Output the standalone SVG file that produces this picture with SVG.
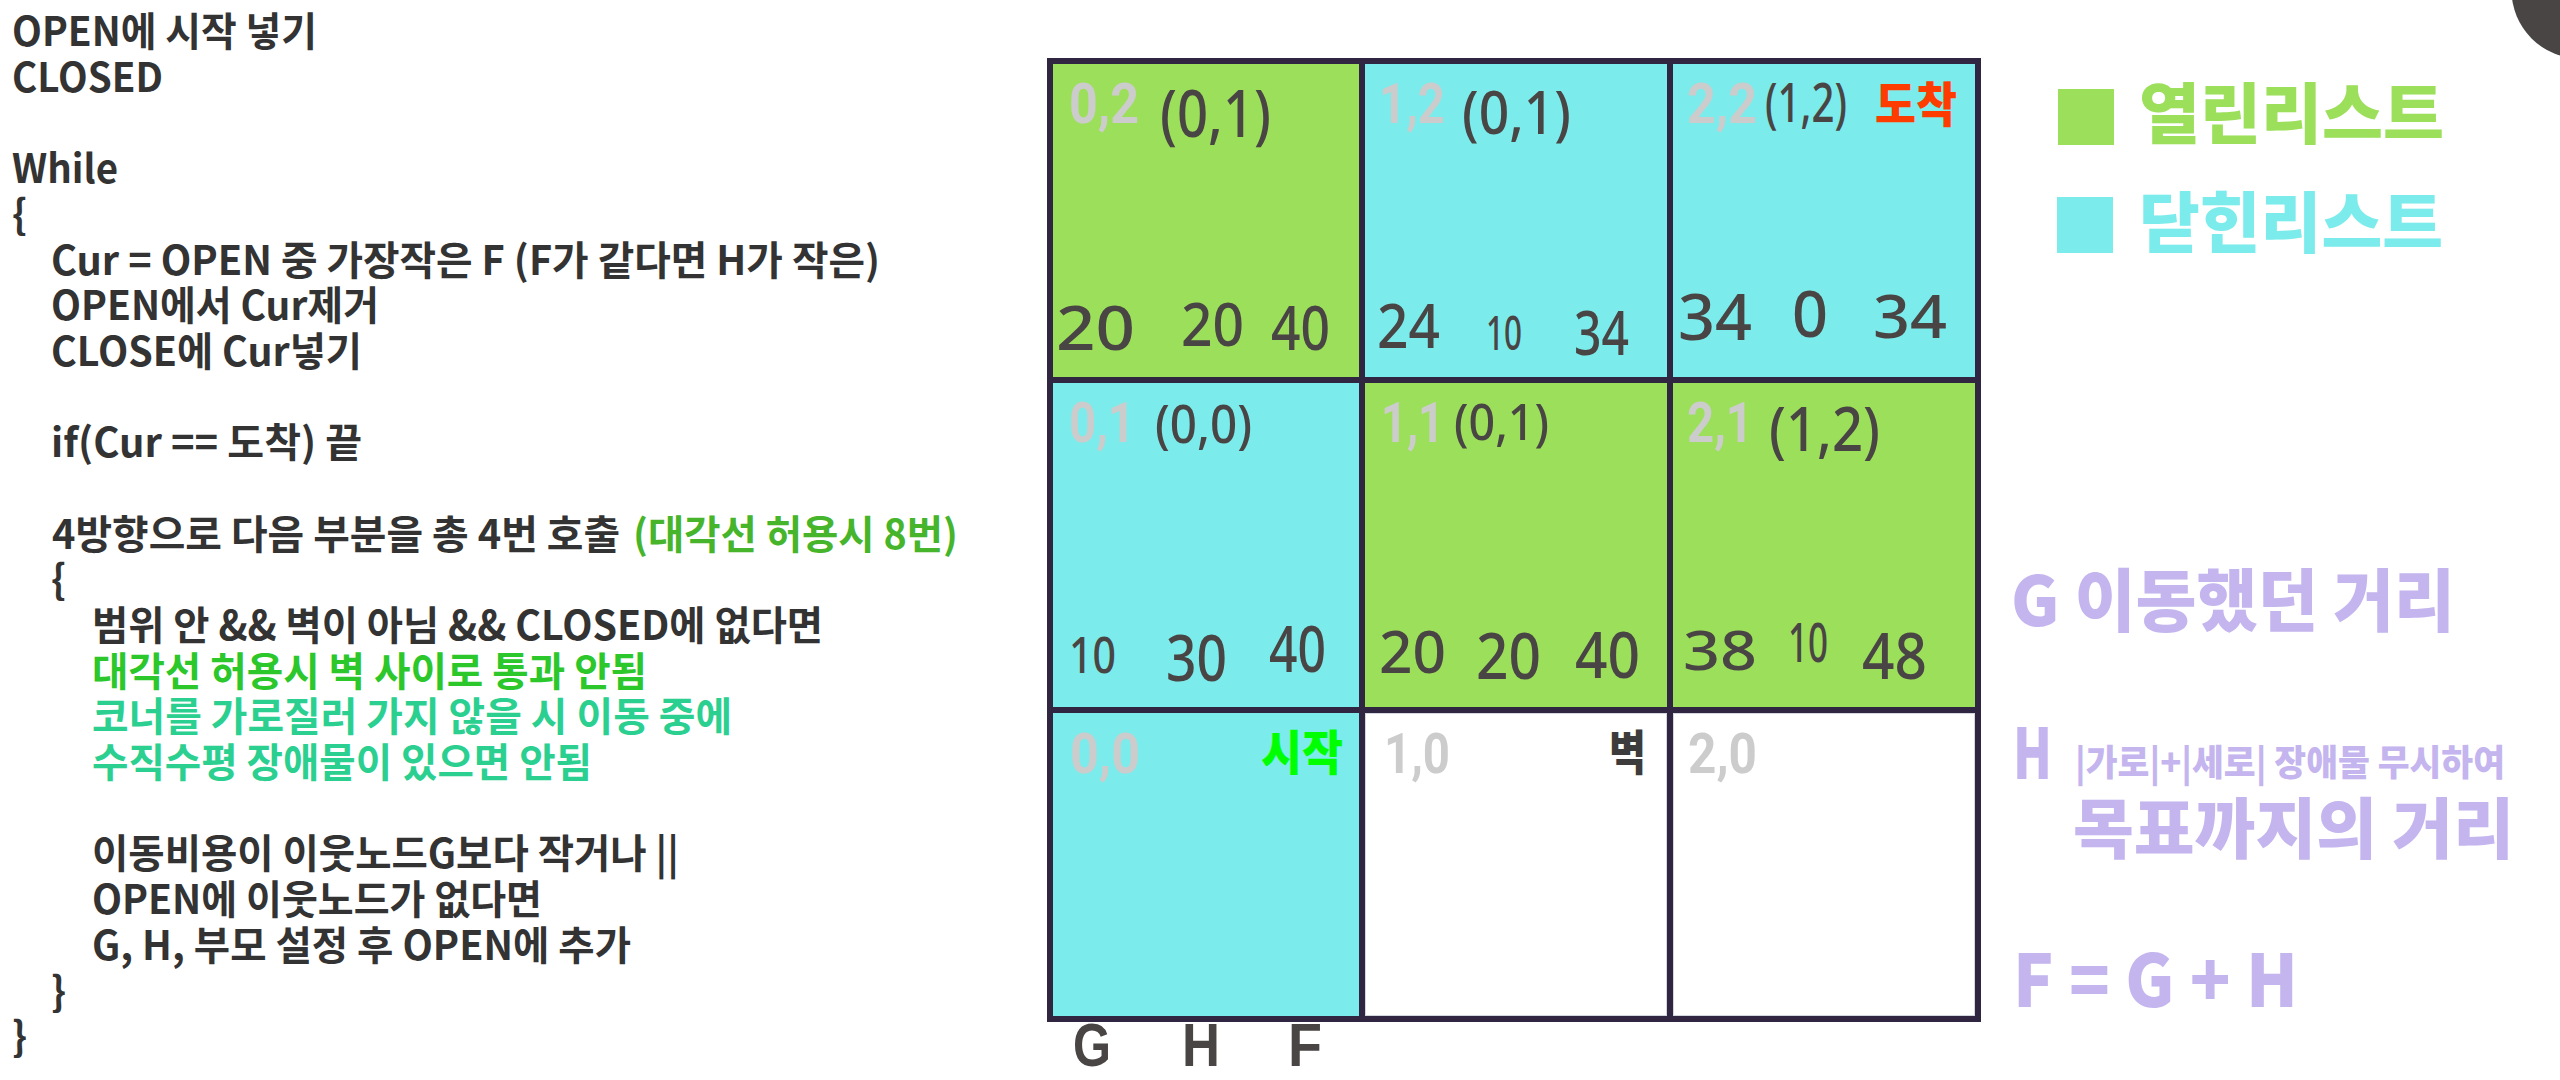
<svg xmlns="http://www.w3.org/2000/svg" width="2560" height="1080" viewBox="0 0 2560 1080">
<style>
.code{font-family:"Noto Sans CJK KR","Noto Sans",sans-serif;font-size:40px;font-weight:700;fill:#333333}
.g1{fill:#46B52C}
.g2{fill:#2BC72B}
.teal{fill:#2BD090}
.lbl{font-family:Roboto,"Liberation Sans",sans-serif;font-weight:700;font-size:56px;fill:#CCCCCC}
.hw{font-family:"Noto Sans","Open Sans",sans-serif;font-weight:500;fill:#4A4545}
.cap{font-family:"Liberation Sans",Arial,sans-serif;font-weight:700;font-size:62px;fill:#4A4545}
.tag{font-family:"Noto Sans CJK KR",sans-serif;font-weight:900;font-size:48px}
.leg{font-family:"Noto Sans CJK KR",sans-serif;font-weight:900}
.pur{fill:#C4B5EF}
.green{fill:#9CDF5A}
.cyan{fill:#7BEBEB}
.white{fill:#FFFFFF;stroke:#D2D8DE;stroke-width:1}
</style>
<rect width="2560" height="1080" fill="#FFFFFF"/>

<g id="pseudocode">
<text class="code" x="12" y="46" textLength="305" lengthAdjust="spacingAndGlyphs">OPEN에 시작 넣기</text>
<text class="code" x="12" y="92" textLength="151" lengthAdjust="spacingAndGlyphs">CLOSED</text>
<text class="code" x="12" y="183" textLength="106" lengthAdjust="spacingAndGlyphs">While</text>
<text class="code" x="12" y="229">{</text>
<text class="code" x="51" y="275" textLength="829" lengthAdjust="spacingAndGlyphs">Cur = OPEN 중 가장작은 F (F가 같다면 H가 작은)</text>
<text class="code" x="51" y="320" textLength="328" lengthAdjust="spacingAndGlyphs">OPEN에서 Cur제거</text>
<text class="code" x="51" y="366" textLength="311" lengthAdjust="spacingAndGlyphs">CLOSE에 Cur넣기</text>
<text class="code" x="51" y="457" textLength="311" lengthAdjust="spacingAndGlyphs">if(Cur == 도착) 끝</text>
<text class="code" x="52" y="549" textLength="568" lengthAdjust="spacingAndGlyphs">4방향으로 다음 부분을 총 4번 호출</text>
<text class="code g1" x="633" y="549" textLength="325" lengthAdjust="spacingAndGlyphs">(대각선 허용시 8번)</text>
<text class="code" x="51" y="594">{</text>
<text class="code" x="92" y="640" textLength="731" lengthAdjust="spacingAndGlyphs">범위 안 &amp;&amp; 벽이 아님 &amp;&amp; CLOSED에 없다면</text>
<text class="code g2" x="92" y="686" textLength="555" lengthAdjust="spacingAndGlyphs">대각선 허용시 벽 사이로 통과 안됨</text>
<text class="code teal" x="92" y="731" textLength="640" lengthAdjust="spacingAndGlyphs">코너를 가로질러 가지 않을 시 이동 중에</text>
<text class="code teal" x="92" y="777" textLength="500" lengthAdjust="spacingAndGlyphs">수직수평 장애물이 있으면 안됨</text>
<text class="code" x="92" y="868" textLength="587" lengthAdjust="spacingAndGlyphs">이동비용이 이웃노드G보다 작거나 ||</text>
<text class="code" x="92" y="914" textLength="450" lengthAdjust="spacingAndGlyphs">OPEN에 이웃노드가 없다면</text>
<text class="code" x="92" y="960" textLength="539" lengthAdjust="spacingAndGlyphs">G, H, 부모 설정 후 OPEN에 추가</text>
<text class="code" x="51" y="1006">}</text>
<text class="code" x="12" y="1051">}</text>
</g>

<g id="grid">
<rect x="1047" y="58" width="934" height="964" fill="#302641"/>

<g id="cell-0-2">
<rect class="green" x="1053" y="64" width="306" height="313"/>
<text class="lbl" x="1069" y="123" textLength="70" lengthAdjust="spacingAndGlyphs">0,2</text>
<text class="hw" x="1160" y="137" font-size="66" textLength="111" lengthAdjust="spacingAndGlyphs">(0,1)</text>
<text class="hw" x="1056" y="350" font-size="62" textLength="79" lengthAdjust="spacingAndGlyphs">20</text>
<text class="hw" x="1181" y="346" font-size="60" textLength="63" lengthAdjust="spacingAndGlyphs">20</text>
<text class="hw" x="1271" y="350" font-size="62" textLength="59" lengthAdjust="spacingAndGlyphs">40</text>
</g>

<g id="cell-1-2">
<rect class="cyan" x="1365" y="64" width="302" height="313"/>
<text class="lbl" x="1379" y="123" textLength="66" lengthAdjust="spacingAndGlyphs">1,2</text>
<text class="hw" x="1462" y="134" font-size="60" textLength="109" lengthAdjust="spacingAndGlyphs">(0,1)</text>
<text class="hw" x="1377" y="348" font-size="62" textLength="63" lengthAdjust="spacingAndGlyphs">24</text>
<text class="hw" x="1486" y="350" font-size="48" textLength="36" lengthAdjust="spacingAndGlyphs">10</text>
<text class="hw" x="1574" y="355" font-size="62" textLength="55" lengthAdjust="spacingAndGlyphs">34</text>
</g>

<g id="cell-2-2">
<rect class="cyan" x="1673" y="64" width="302" height="313"/>
<text class="lbl" x="1687" y="123" textLength="70" lengthAdjust="spacingAndGlyphs">2,2</text>
<text class="hw" x="1765" y="122" font-size="54" textLength="82" lengthAdjust="spacingAndGlyphs">(1,2)</text>
<text class="tag" x="1875" y="122" textLength="82" lengthAdjust="spacingAndGlyphs" fill="#FF3C00">도착</text>
<text class="hw" x="1678" y="340" font-size="64" textLength="74" lengthAdjust="spacingAndGlyphs">34</text>
<text class="hw" x="1792" y="337" font-size="64" textLength="36" lengthAdjust="spacingAndGlyphs">0</text>
<text class="hw" x="1873" y="338" font-size="60" textLength="74" lengthAdjust="spacingAndGlyphs">34</text>
</g>

<g id="cell-0-1">
<rect class="cyan" x="1053" y="383" width="306" height="324"/>
<text class="lbl" x="1069" y="442" textLength="66" lengthAdjust="spacingAndGlyphs">0,1</text>
<text class="hw" x="1155" y="443" font-size="52" textLength="97" lengthAdjust="spacingAndGlyphs">(0,0)</text>
<text class="hw" x="1069" y="673" font-size="50" textLength="47" lengthAdjust="spacingAndGlyphs">10</text>
<text class="hw" x="1166" y="681" font-size="64" textLength="61" lengthAdjust="spacingAndGlyphs">30</text>
<text class="hw" x="1269" y="672" font-size="64" textLength="57" lengthAdjust="spacingAndGlyphs">40</text>
</g>

<g id="cell-1-1">
<rect class="green" x="1365" y="383" width="302" height="324"/>
<text class="lbl" x="1381" y="442" textLength="63" lengthAdjust="spacingAndGlyphs">1,1</text>
<text class="hw" x="1454" y="440" font-size="50" textLength="95" lengthAdjust="spacingAndGlyphs">(0,1)</text>
<text class="hw" x="1379" y="673" font-size="58" textLength="67" lengthAdjust="spacingAndGlyphs">20</text>
<text class="hw" x="1476" y="679" font-size="64" textLength="65" lengthAdjust="spacingAndGlyphs">20</text>
<text class="hw" x="1575" y="678" font-size="64" textLength="65" lengthAdjust="spacingAndGlyphs">40</text>
</g>

<g id="cell-2-1">
<rect class="green" x="1673" y="383" width="302" height="324"/>
<text class="lbl" x="1687" y="442" textLength="66" lengthAdjust="spacingAndGlyphs">2,1</text>
<text class="hw" x="1769" y="451" font-size="62" textLength="111" lengthAdjust="spacingAndGlyphs">(1,2)</text>
<text class="hw" x="1683" y="670" font-size="54" textLength="74" lengthAdjust="spacingAndGlyphs">38</text>
<text class="hw" x="1788" y="662" font-size="54" textLength="40" lengthAdjust="spacingAndGlyphs">10</text>
<text class="hw" x="1862" y="679" font-size="64" textLength="65" lengthAdjust="spacingAndGlyphs">48</text>
</g>

<g id="cell-0-0">
<rect class="cyan" x="1053" y="713" width="306" height="303"/>
<text class="lbl" x="1070" y="773" textLength="70" lengthAdjust="spacingAndGlyphs">0,0</text>
<text class="tag" x="1261" y="770" textLength="82" lengthAdjust="spacingAndGlyphs" fill="#00FF00">시작</text>
</g>

<g id="cell-1-0">
<rect class="white" x="1365.5" y="713.5" width="301" height="302"/>
<text class="lbl" x="1384" y="773" textLength="66" lengthAdjust="spacingAndGlyphs">1,0</text>
<text class="tag" x="1609" y="770" textLength="37" lengthAdjust="spacingAndGlyphs" fill="#3C3C3C">벽</text>
</g>

<g id="cell-2-0">
<rect class="white" x="1673.5" y="713.5" width="301" height="302"/>
<text class="lbl" x="1688" y="773" textLength="69" lengthAdjust="spacingAndGlyphs">2,0</text>
</g>
</g>

<g id="ghf-caption">
<text class="cap" x="1073" y="1066" textLength="38" lengthAdjust="spacingAndGlyphs">G</text>
<text class="cap" x="1182" y="1066" textLength="38" lengthAdjust="spacingAndGlyphs">H</text>
<text class="cap" x="1288" y="1066" textLength="34" lengthAdjust="spacingAndGlyphs">F</text>
</g>

<g id="legend-open">
<rect class="green" x="2058" y="89" width="56" height="56"/>
<text class="leg green" x="2139" y="138" font-size="66" textLength="305" lengthAdjust="spacingAndGlyphs">열린리스트</text>
</g>
<g id="legend-closed">
<rect class="cyan" x="2057" y="197" width="56" height="56"/>
<text class="leg cyan" x="2139" y="247" font-size="66" textLength="304" lengthAdjust="spacingAndGlyphs">닫힌리스트</text>
</g>

<g id="note-g">
<text class="leg pur" x="2011" y="626" font-size="68" textLength="444" lengthAdjust="spacingAndGlyphs">G 이동했던 거리</text>
</g>
<g id="note-h">
<text class="leg pur" x="2013" y="779" font-size="70" textLength="39" lengthAdjust="spacingAndGlyphs">H</text>
<text class="leg pur" x="2075" y="776" font-size="36" textLength="430" lengthAdjust="spacingAndGlyphs">|가로|+|세로| 장애물 무시하여</text>
<text class="leg pur" x="2073" y="853" font-size="66" textLength="441" lengthAdjust="spacingAndGlyphs">목표까지의 거리</text>
</g>
<g id="note-f">
<text class="leg pur" x="2013" y="1007" font-size="72" textLength="285" lengthAdjust="spacingAndGlyphs">F = G + H</text>
</g>

<circle cx="2580" cy="-10" r="68.5" fill="#4A4545"/>
</svg>
